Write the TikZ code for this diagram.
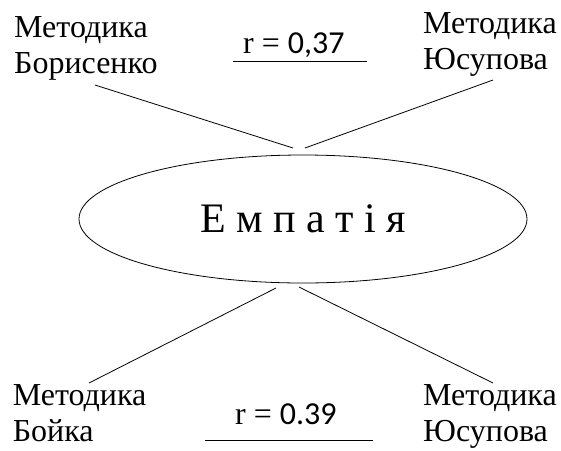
\documentclass[tikz,border=0pt]{standalone}
\usepackage{fontspec}
\setmainfont{Liberation Serif}
\newfontfamily\digfont{Carlito}
\usetikzlibrary{shapes.geometric}

\tikzset{
  metod/.style={font=\fontsize{32}{36.5}\selectfont, align=left, inner sep=0pt, anchor=north west},
  koef/.style={font=\fontsize{32}{36.5}\selectfont, inner sep=0pt, anchor=base west},
  zv/.style={line width=0.8pt}
}

\begin{document}
\begin{tikzpicture}[x=1pt,y=-1pt]
 \useasboundingbox (0,0) rectangle (561,450);
 % central ellipse
 \node[ellipse, draw, zv, minimum width=448pt, minimum height=128pt, inner sep=0pt,
       font=\fontsize{42}{48}\selectfont] at (303,219)(emp){Е м п а т і я};
 % methods
 \node[metod] at (14,16.3)(bor){Методика\\Борисенко};
 \node[metod] at (423,12.3)(yus1){Методика\\Юсупова};
 \node[metod] at (12.6,384.3)(boi){Методика\\Бойка};
 \node[metod] at (423,384.3)(yus2){Методика\\Юсупова};
 % coefficients
 \node[koef] at (243,53.5)(r1){r = {\digfont 0,37}};
 \node[koef] at (235,424)(r2){r = {\digfont 0.39}};
 \draw[zv] (233,61) -- (367,61);
 \draw[zv] (205,440) -- (373,440);
 % links
 \coordinate (bor-e) at (95,85);
 \coordinate (yus1-e) at (493,80);
 \coordinate (boi-e) at (89,383);
 \coordinate (yus2-e) at (493,383);
 \coordinate (emp-n1) at (293,148);
 \coordinate (emp-n2) at (305,148);
 \coordinate (emp-s1) at (276,288);
 \coordinate (emp-s2) at (299,287);
 \draw[zv] (bor-e) -- (emp-n1);
 \draw[zv] (yus1-e) -- (emp-n2);
 \draw[zv] (emp-s1) -- (boi-e);
 \draw[zv] (emp-s2) -- (yus2-e);
\end{tikzpicture}
\end{document}
